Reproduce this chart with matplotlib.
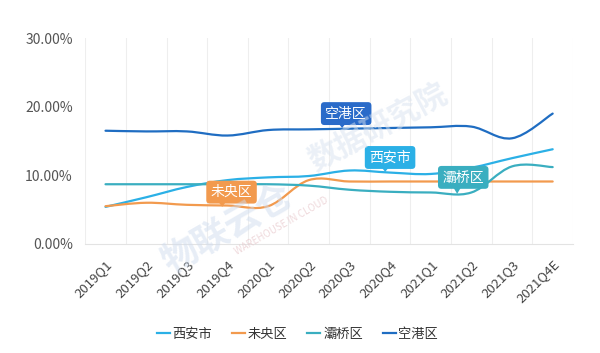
import matplotlib
matplotlib.use("Agg")
import matplotlib.pyplot as plt
import numpy as np
from matplotlib.path import Path
from matplotlib.patches import PathPatch, Polygon

plt.rcParams['font.family'] = ['Noto Sans CJK SC', 'DejaVu Sans']

quarters = ["2019Q1", "2019Q2", "2019Q3", "2019Q4", "2020Q1", "2020Q2",
            "2020Q3", "2020Q4", "2021Q1", "2021Q2", "2021Q3", "2021Q4E"]

xian = [5.4, 6.8, 8.3, 9.3, 9.7, 9.9, 10.7, 10.4, 10.2, 11.1, 12.5, 13.8]
weiyang = [5.5, 6.0, 5.7, 5.6, 5.5, 9.3, 9.1, 9.1, 9.1, 9.1, 9.1, 9.1]
baqiao = [8.7, 8.7, 8.7, 8.7, 8.7, 8.5, 7.9, 7.6, 7.5, 7.5, 11.3, 11.2]
konggang = [16.5, 16.4, 16.4, 15.8, 16.6, 16.7, 16.8, 16.9, 17.0, 17.1, 15.4, 19.0]

names = ["西安市", "未央区", "灞桥区", "空港区"]
colors = ["#2bb0e6", "#f29a4e", "#3aaec0", "#1f6dc2"]
box_colors = ["#2bb0e6", "#f29a4e", "#3aaec0", "#2a6bc9"]

# label box centre (x index, y %) and pointer tip
label_pos = [(7.0, 12.6), (3.1, 7.55), (8.8, 9.7), (5.92, 19.0)]
label_tip = [(6.88, 10.5), (2.87, 5.4), (8.65, 7.3), (5.82, 16.9)]


def smooth_path(xs, ys, s=0.35):
    pts = np.column_stack([xs, ys]).astype(float)
    n = len(pts)
    verts = [pts[0]]
    codes = [Path.MOVETO]
    for i in range(n - 1):
        p0 = pts[max(i - 1, 0)]
        p1 = pts[i]
        p2 = pts[i + 1]
        p3 = pts[min(i + 2, n - 1)]
        c1 = p1 + (p2 - p0) * s / 2
        c2 = p2 - (p3 - p1) * s / 2
        verts += [c1, c2, p2]
        codes += [Path.CURVE4] * 3
    return Path(verts, codes)


fig, ax = plt.subplots(figsize=(6, 3.53), dpi=100)
fig.subplots_adjust(left=0.142, right=0.955, bottom=0.309, top=0.892)

# faint watermark
fig.text(0.38, 0.35, "物联云仓", fontsize=26, color='#cfdcee', alpha=0.5,
         rotation=30, ha='center', va='center', fontweight='bold', zorder=0)
fig.text(0.47, 0.36, "WAREHOUSE IN CLOUD", fontsize=7, color='#e8c8cc',
         alpha=0.7, rotation=30, ha='center', va='center', zorder=0)
fig.text(0.63, 0.64, "数据研究院", fontsize=22, color='#d8e2ef', alpha=0.5,
         rotation=28, ha='center', va='center', fontweight='bold', zorder=0)

x = np.arange(len(quarters))
series = [xian, weiyang, baqiao, konggang]
for vals, name, c in zip(series, names, colors):
    ax.add_patch(PathPatch(smooth_path(x, vals), fill=False, edgecolor=c,
                           lw=1.6, zorder=3, capstyle='round'))
    ax.plot([], [], color=c, lw=1.6, label=name)

for name, bc, (lx, ly), (tx, ty) in zip(names, box_colors, label_pos, label_tip):
    base = ly - 1.2
    ax.add_patch(Polygon([(tx - 0.12, base), (tx + 0.12, base), (tx, ty)],
                         closed=True, facecolor=bc, edgecolor='none', zorder=4))
    ax.text(lx, ly, name, color='white', fontsize=10, ha='center', va='center',
            zorder=5, bbox=dict(boxstyle='round,pad=0.32,rounding_size=0.25',
                                facecolor=bc, edgecolor='none'))

ax.set_xlim(-0.5, 11.5)
ax.set_ylim(0, 30)
ax.set_yticks([0, 10, 20, 30])
ax.set_yticklabels(["0.00%", "10.00%", "20.00%", "30.00%"])
ax.set_xticks(x)
ax.set_xticklabels(quarters, rotation=45, ha='right', rotation_mode='anchor')
ax.tick_params(axis='y', length=0, pad=9, labelsize=10, labelcolor='#555555')
ax.tick_params(axis='x', length=0, pad=10, labelsize=9.5, labelcolor='#444444')
ax.patch.set_alpha(0)

for b in np.arange(-0.5, 12, 1):
    ax.axvline(b, color='#eeeeee', lw=0.8, zorder=0)
for sp in ['top', 'right', 'left']:
    ax.spines[sp].set_visible(False)
ax.spines['bottom'].set_color('#e3e3e3')

ax.legend(loc='upper center', bbox_to_anchor=(0.435, -0.35), ncol=4,
          frameon=False, fontsize=9.5, handlelength=1.0, handletextpad=0.2,
          columnspacing=1.5, labelcolor='#333333')

fig.savefig("out.png", dpi=100, facecolor='white')
